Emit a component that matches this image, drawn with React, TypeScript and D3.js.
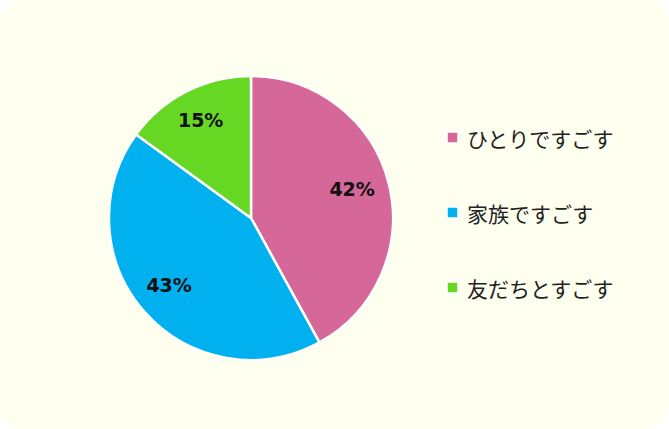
import React, { useEffect } from "react";
import * as d3 from "d3";

const categories = ["ひとりですごす", "家族ですごす", "友だちとすごす"];
const values = [42, 43, 15];
const colors = ["#d66799", "#00b0ef", "#66d823"];

const App: React.FC = () => {
  useEffect(() => {
    document.body.style.margin = "0";
  }, []);

  const width = 669;
  const height = 429;
  const cx = 251;
  const cy = 218;
  const radius = 142;

  const pie = d3
    .pie<number>()
    .value((d) => d)
    .sort(null);
  const arcs = pie(values);

  const arc = d3.arc<d3.PieArcDatum<number>>().innerRadius(0).outerRadius(radius);
  const labelArc = d3
    .arc<d3.PieArcDatum<number>>()
    .innerRadius(radius * 0.75)
    .outerRadius(radius * 0.75);

  // 凡例の位置
  const legendY = d3.scalePoint<string>().domain(categories).range([138, 288]);

  return (
    <svg
      width={width}
      height={height}
      style={{ position: "absolute", top: 0, left: 0, display: "block" }}
    >
      <rect x={0} y={0} width={width} height={height} fill="#ffffff" />
      <rect x={0} y={0} width={width} height={height} rx={22} ry={22} fill="#fffff0" />
      {/* 円グラフ */}
      <g transform={`translate(${cx},${cy})`}>
        {arcs.map((a, i) => (
          <path key={i} d={arc(a) ?? ""} fill={colors[i]} stroke="#ffffff" strokeWidth={2.5} />
        ))}
        {arcs.map((a, i) => {
          const [lx, ly] = labelArc.centroid(a);
          return (
            <text
              key={i}
              x={lx - 2}
              y={ly - 3}
              textAnchor="middle"
              dominantBaseline="central"
              style={{ fontFamily: "'DejaVu Sans', sans-serif", fontWeight: "bold", fontSize: "19px" }}
              fill="#111111"
            >
              {values[i]}%
            </text>
          );
        })}
      </g>
      {/* 凡例 */}
      {categories.map((c, i) => (
        <g key={c} transform={`translate(447, ${legendY(c)})`}>
          <rect x={0} y={-6} width={11} height={11} fill={colors[i]} stroke="#ffffff" strokeWidth={1.5} />
          <text
            x={20}
            y={0}
            dominantBaseline="central"
            style={{ fontFamily: "'Noto Sans CJK JP', sans-serif", fontSize: "21px" }}
            fill="#222222"
          >
            {c}
          </text>
        </g>
      ))}
    </svg>
  );
};

export default App;
